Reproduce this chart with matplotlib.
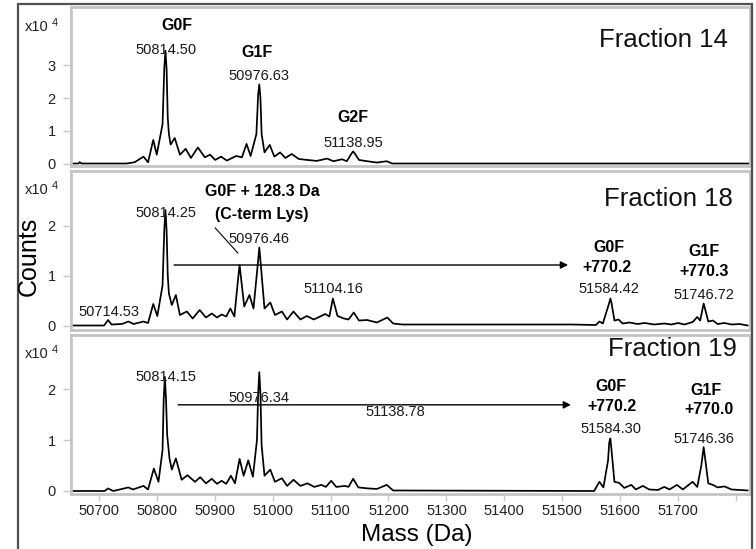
import matplotlib
matplotlib.use("Agg")
import matplotlib.pyplot as plt
from matplotlib.patches import Rectangle

plt.rcParams['font.family'] = ['Liberation Sans', 'DejaVu Sans']

# ---------------- data (intensity in units of 1e4 counts) ----------------
mass_f14 = [50652, 50665, 50667, 50670, 50748, 50762, 50777, 50785, 50794, 50800,
            50810, 50813, 50815, 50817, 50819, 50821, 50824, 50831, 50840, 50850,
            50859, 50871, 50883, 50892, 50901, 50911, 50921, 50937, 50947, 50955,
            50962, 50972, 50975, 50977, 50979, 50981, 50986, 50995, 51003, 51013,
            51022, 51033, 51045, 51059, 51076, 51094, 51105, 51120, 51128, 51136,
            51139, 51142, 51149, 51163, 51180, 51197, 51206, 51824]
int_f14 = [0, 0, 0.04, 0, 0, 0.04, 0.21, 0.04, 0.72, 0.27,
           1.2, 2.9, 3.45, 2.9, 1.4, 0.9, 0.58, 0.78, 0.27, 0.45,
           0.17, 0.49, 0.19, 0.27, 0.11, 0.21, 0.09, 0.23, 0.19, 0.6,
           0.23, 0.9, 2.1, 2.42, 2.0, 0.9, 0.34, 0.57, 0.21, 0.34,
           0.17, 0.29, 0.14, 0.11, 0.08, 0.15, 0.07, 0.13, 0.07, 0.3,
           0.37, 0.3, 0.11, 0.07, 0.03, 0.07, 0, 0]

mass_f18 = [50652, 50709, 50716, 50722, 50740, 50751, 50760, 50777, 50785, 50794,
            50801, 50810, 50813, 50815, 50817, 50819, 50821, 50826, 50833, 50840,
            50852, 50862, 50874, 50885, 50895, 50904, 50912, 50920, 50927, 50934,
            50941, 50943, 50945, 50951, 50960, 50967, 50975, 50977, 50979, 50986,
            50996, 51004, 51016, 51025, 51036, 51048, 51059, 51071, 51082, 51091,
            51098, 51104, 51112, 51123, 51131, 51140, 51149, 51163, 51180, 51198,
            51208, 51224, 51267, 51515, 51558, 51564, 51570, 51581, 51583, 51585,
            51590, 51597, 51604, 51616, 51630, 51642, 51659, 51676, 51688, 51700,
            51711, 51725, 51733, 51738, 51744, 51752, 51760, 51768, 51780, 51792,
            51806, 51820]
int_f18 = [0, 0, 0.11, 0.02, 0.03, 0.08, 0.03, 0.08, 0.05, 0.43,
           0.19, 0.8, 1.9, 2.31, 1.9, 1.0, 0.64, 0.41, 0.61, 0.21,
           0.28, 0.14, 0.31, 0.16, 0.24, 0.16, 0.22, 0.18, 0.34, 0.18,
           1.0, 1.21, 1.0, 0.38, 0.61, 0.34, 1.3, 1.56, 1.3, 0.34,
           0.46, 0.21, 0.28, 0.12, 0.28, 0.12, 0.19, 0.12, 0.18, 0.23,
           0.18, 0.54, 0.19, 0.14, 0.12, 0.26, 0.1, 0.11, 0.06, 0.16,
           0.04, 0.02, 0.02, 0.02, 0.01, 0.08, 0.04, 0.45, 0.54, 0.45,
           0.1, 0.12, 0.04, 0.06, 0.03, 0.05, 0.02, 0.04, 0.02, 0.05,
           0.02, 0.07, 0.17, 0.1, 0.44, 0.08, 0.1, 0.03, 0.05, 0.02,
           0.03, 0]

mass_f19 = [50652, 50710, 50716, 50725, 50751, 50759, 50777, 50785, 50795, 50803,
            50810, 50812, 50814, 50816, 50818, 50822, 50826, 50833, 50843, 50853,
            50866, 50875, 50885, 50895, 50904, 50912, 50920, 50928, 50935, 50943,
            50950, 50958, 50966, 50973, 50975, 50977, 50979, 50981, 50986, 50996,
            51004, 51016, 51025, 51036, 51048, 51060, 51072, 51084, 51092, 51101,
            51110, 51125, 51131, 51139, 51148, 51165, 51180, 51197, 51208, 51555,
            51564, 51571, 51579, 51581, 51583, 51585, 51590, 51598, 51607, 51619,
            51627, 51639, 51650, 51665, 51676, 51685, 51698, 51708, 51725, 51733,
            51740, 51744, 51747, 51752, 51760, 51768, 51780, 51792, 51820]
int_f19 = [0, 0, 0.05, 0, 0.07, 0.03, 0.1, 0.03, 0.44, 0.18,
           0.8, 1.8, 2.24, 1.8, 1.1, 0.64, 0.42, 0.64, 0.22, 0.31,
           0.18, 0.27, 0.15, 0.24, 0.14, 0.2, 0.14, 0.3, 0.15, 0.63,
           0.3, 0.6, 0.28, 1.0, 1.9, 2.33, 1.9, 0.9, 0.3, 0.42,
           0.18, 0.25, 0.1, 0.22, 0.1, 0.15, 0.08, 0.12, 0.08, 0.2,
           0.08, 0.1, 0.08, 0.24, 0.07, 0.05, 0.04, 0.12, 0.01, 0,
           0.18, 0.07, 0.6, 0.95, 1.03, 0.8, 0.18, 0.16, 0.06, 0.12,
           0.03, 0.1, 0.03, 0.02, 0.08, 0.03, 0.12, 0.03, 0.18, 0.08,
           0.5, 0.86, 0.6, 0.15, 0.12, 0.07, 0.09, 0.03, 0.01]

fractions = ["Fraction 14", "Fraction 18", "Fraction 19"]
x_ticks = [50700, 50800, 50900, 51000, 51100, 51200, 51300, 51400, 51500, 51600, 51700, 51800]
x_tick_labels = ["50700", "50800", "50900", "51000", "51100", "51200", "51300",
                 "51400", "51500", "51600", "51700", ""]
y_ticks = [[0, 1, 2, 3], [0, 1, 2], [0, 1, 2]]

# ---------------- figure ----------------
W, H = 756, 549
fig = plt.figure(figsize=(W / 100, H / 100), dpi=100)

def fx(px):
    return px / W

def fy(py):
    return 1 - py / H

# outer window frame
fig.patches.append(Rectangle((fx(18), fy(560)), fx(752) - fx(18), fy(4) - fy(560),
                             transform=fig.transFigure, fill=False,
                             edgecolor='#505050', linewidth=1.6))

panel_px = [(7, 166), (171, 330), (335, 494)]
ylims = [(-0.076, 4.786), (-0.09, 3.09), (-0.059, 3.06)]
series = [(mass_f14, int_f14), (mass_f18, int_f18), (mass_f19, int_f19)]
frac_pos = [(0.968, 0.79), (0.975, 0.824), (0.981, 0.912)]
axes = []
for i in range(3):
    top, bot = panel_px[i]
    ax = fig.add_axes([fx(71), fy(bot), fx(750) - fx(71), (bot - top) / H])
    m, v = series[i]
    ax.plot(m, v, color='black', lw=1.25, solid_joinstyle='round')
    ax.set_xlim(50652, 51824)
    ax.set_ylim(*ylims[i])
    ax.set_yticks(y_ticks[i])
    ax.set_yticklabels([str(t) for t in y_ticks[i]])
    ax.set_xticks(x_ticks)
    if i == 2:
        ax.set_xticklabels(x_tick_labels)
    else:
        ax.tick_params(axis='x', bottom=False, labelbottom=False)
    ax.tick_params(axis='y', color='#c8c8c8', length=6, width=1,
                   labelsize=10.5, labelcolor='#222222', pad=5)
    ax.tick_params(axis='x', color='#c8c8c8', length=5, width=1,
                   labelsize=10.5, labelcolor='#222222', pad=2)
    for sp in ax.spines.values():
        sp.set_color('#c4c4c4')
        sp.set_linewidth(2.0)
    ax.text(frac_pos[i][0], frac_pos[i][1], fractions[i], transform=ax.transAxes,
            ha='right', va='center', fontsize=18.5, color='#111111')
    axes.append(ax)

# x10^4 multipliers
for py in [27, 190, 354]:
    fig.text(fx(25), fy(py), "x10", ha='left', va='center', fontsize=10.5, color='#222222')
    fig.text(fx(52), fy(py - 4), "4", ha='left', va='center', fontsize=8, color='#222222')

num_kw = dict(ha='center', va='center', fontsize=10.5, color='#1a1a1a')
bold_kw = dict(ha='center', va='center', fontsize=11.5, fontweight='bold', color='black')

# panel 1
a = axes[0]
a.text(50835, 4.22, "G0F", **bold_kw)
a.text(50816, 3.47, "50814.50", **num_kw)
a.text(50973, 3.38, "G1F", **bold_kw)
a.text(50977, 2.68, "50976.63", **num_kw)
a.text(51139, 1.42, "G2F", **bold_kw)
a.text(51139, 0.63, "51138.95", **num_kw)

# panel 2
a = axes[1]
a.text(50982, 2.67, "G0F + 128.3 Da", **bold_kw)
a.text(50982, 2.23, "(C-term Lys)", **bold_kw)
a.text(50816, 2.25, "50814.25", **num_kw)
a.text(50977, 1.73, "50976.46", **num_kw)
a.text(51105, 0.73, "51104.16", **num_kw)
a.text(50717, 0.27, "50714.53", **num_kw)
a.plot([50901, 50940], [1.95, 1.45], color='black', lw=0.8)
a.annotate('', xy=(51510, 1.21), xytext=(50830, 1.21),
           arrowprops=dict(arrowstyle='-|>', color='black', lw=1.0, mutation_scale=11,
                           shrinkA=0, shrinkB=0))
a.text(51580, 1.57, "G0F", **bold_kw)
a.text(51578, 1.17, "+770.2", **bold_kw)
a.text(51581, 0.73, "51584.42", **num_kw)
a.text(51745, 1.49, "G1F", **bold_kw)
a.text(51745, 1.07, "+770.3", **bold_kw)
a.text(51745, 0.61, "51746.72", **num_kw)

# panel 3
a = axes[2]
a.text(50816, 2.24, "50814.15", **num_kw)
a.text(50977, 1.82, "50976.34", **num_kw)
a.text(51212, 1.55, "51138.78", **num_kw)
a.annotate('', xy=(51515, 1.69), xytext=(50837, 1.69),
           arrowprops=dict(arrowstyle='-|>', color='black', lw=1.0, mutation_scale=11,
                           shrinkA=0, shrinkB=0))
a.text(51584, 2.04, "G0F", **bold_kw)
a.text(51585, 1.65, "+770.2", **bold_kw)
a.text(51584, 1.22, "51584.30", **num_kw)
a.text(51748, 1.98, "G1F", **bold_kw)
a.text(51754, 1.59, "+770.0", **bold_kw)
a.text(51744, 1.02, "51746.36", **num_kw)

# axis titles
fig.text(fx(29), fy(256), "Counts", rotation=90, ha='center', va='center',
         fontsize=18, color='black')
fig.text(fx(417), fy(535), "Mass (Da)", ha='center', va='center',
         fontsize=17.5, color='black')

fig.savefig("out.png", dpi=100)
